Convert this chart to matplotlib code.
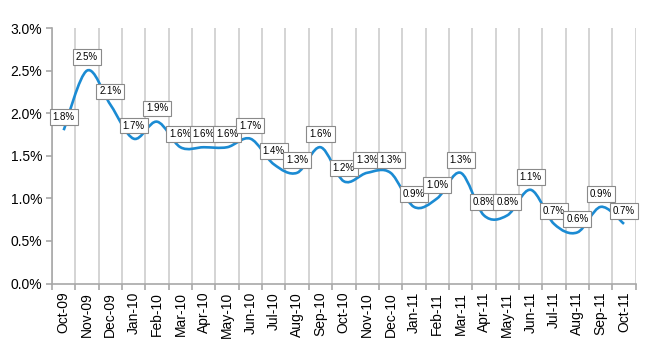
import numpy as np
import matplotlib
matplotlib.use("Agg")
import matplotlib.pyplot as plt
import matplotlib.ticker as mticker
from matplotlib.path import Path
from matplotlib.patches import PathPatch

plt.rcParams["font.family"] = ["Liberation Sans", "DejaVu Sans"]

months = ["Oct-09", "Nov-09", "Dec-09", "Jan-10", "Feb-10", "Mar-10", "Apr-10",
          "May-10", "Jun-10", "Jul-10", "Aug-10", "Sep-10", "Oct-10", "Nov-10",
          "Dec-10", "Jan-11", "Feb-11", "Mar-11", "Apr-11", "May-11", "Jun-11",
          "Jul-11", "Aug-11", "Sep-11", "Oct-11"]
rates = [1.8, 2.5, 2.1, 1.7, 1.9, 1.6, 1.6, 1.6, 1.7, 1.4, 1.3, 1.6, 1.2, 1.3,
         1.3, 0.9, 1.0, 1.3, 0.8, 0.8, 1.1, 0.7, 0.6, 0.9, 0.7]
y_ticks = [0.0, 0.5, 1.0, 1.5, 2.0, 2.5, 3.0]

C_LINE = "#1b8bd3"
C_GRID = "#d4d4d4"
C_AXIS = "#a8a8a8"


def smooth_path(x, y):
    # Excel-style smoothed line: cubic Bezier segments through each point
    pts = np.column_stack([x, y]).astype(float)
    n = len(pts)
    verts = [pts[0]]
    codes = [Path.MOVETO]
    for i in range(n - 1):
        p0 = pts[i - 1] if i > 0 else pts[i]
        p1, p2 = pts[i], pts[i + 1]
        p3 = pts[i + 2] if i + 2 < n else pts[i + 1]
        verts += [p1 + (p2 - p0) / 6, p2 - (p3 - p1) / 6, p2]
        codes += [Path.CURVE4] * 3
    return Path(verts, codes)


fig = plt.figure(figsize=(6.5, 3.5), dpi=100, facecolor="white")
ax = fig.add_axes([0.08, 0.19, 0.898, 0.73])

x = np.arange(len(months))
ax.add_patch(PathPatch(smooth_path(x, rates), fill=False, edgecolor=C_LINE,
                       linewidth=1.9, capstyle="butt", zorder=3))

for xi, v in zip(x, rates):
    ax.annotate(f"{v:.1f}%", (xi, v), xytext=(0, 9.5), textcoords="offset points",
                ha="center", va="center", fontsize=7, color="black", zorder=5,
                bbox=dict(boxstyle="square,pad=0.3", fc="white", ec="#8a8a8a", lw=0.8))

ax.set_xlim(-0.5, len(months) - 0.5)
ax.set_ylim(0, 3.0)
ax.set_yticks(y_ticks)
ax.yaxis.set_major_formatter(mticker.FuncFormatter(lambda v, _: f"{v:.1f}%"))
ax.set_xticks(x)
ax.set_xticklabels(months, rotation=90)
ax.set_xticks(np.arange(-0.5, len(months)), minor=True)

ax.grid(axis="x", which="minor", color=C_GRID, linewidth=1.4, zorder=0)
ax.grid(axis="x", which="major", visible=False)
ax.set_axisbelow(True)

for sp in ["top", "right"]:
    ax.spines[sp].set_visible(False)
for sp in ["left", "bottom"]:
    ax.spines[sp].set_color(C_AXIS)
    ax.spines[sp].set_linewidth(1.2)

ax.tick_params(axis="x", which="major", length=0, labelsize=10, pad=6)
ax.tick_params(axis="x", which="minor", length=4, color=C_AXIS, width=1.2)
ax.tick_params(axis="y", length=4, color=C_AXIS, width=1.2, labelsize=10, pad=3)

fig.savefig("out.png", dpi=100, facecolor="white")
